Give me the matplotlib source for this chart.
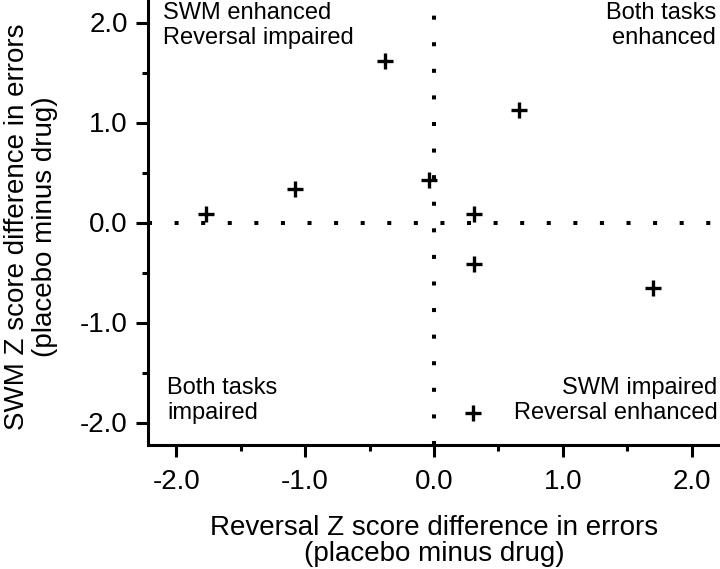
import numpy as np
import matplotlib
matplotlib.use("Agg")
import matplotlib.pyplot as plt
from matplotlib.ticker import MultipleLocator, FormatStrFormatter

plt.rcParams['font.family'] = ['Liberation Sans', 'DejaVu Sans']
plt.rcParams['axes.unicode_minus'] = False

# reversal vs SWM z score differences (placebo minus drug)
reversal_z = [-1.77, -1.08, -0.38, -0.04, 0.31, 0.31, 0.66, 1.70, 0.30]
swm_z = [0.09, 0.34, 1.62, 0.43, 0.09, -0.41, 1.12, -0.65, -1.90]

quadrant_labels = ["SWM enhanced\nReversal impaired", "Both tasks\nenhanced",
                   "Both tasks\nimpaired", "SWM impaired\nReversal enhanced"]

fig = plt.figure(figsize=(7.2, 5.69), dpi=100)
ax = fig.add_axes([148 / 720, 124 / 569, 572 / 720, 445 / 569])

# dotted zero lines
dots = (0, (1, 5.6))
ax.axhline(0, color='black', lw=2.9, linestyle=dots, dash_capstyle='butt', zorder=1)
ax.axvline(0, color='black', lw=2.9, linestyle=dots, dash_capstyle='butt', zorder=1)

ax.plot(reversal_z, swm_z, linestyle='none', marker='+', color='black',
        markersize=11, markeredgewidth=2.4, zorder=3)

ax.set_xlim(-2.22, 2.22)
ax.set_ylim(-2.225, 2.225)

ax.xaxis.set_major_locator(MultipleLocator(1.0))
ax.xaxis.set_minor_locator(MultipleLocator(0.5))
ax.yaxis.set_major_locator(MultipleLocator(1.0))
ax.yaxis.set_minor_locator(MultipleLocator(0.5))
ax.xaxis.set_major_formatter(FormatStrFormatter('%.1f'))
ax.yaxis.set_major_formatter(FormatStrFormatter('%.1f'))

ax.tick_params(which='major', direction='out', length=8.5, width=2.2, labelsize=20, pad=6)
ax.tick_params(axis='x', which='major', pad=9)
ax.tick_params(which='minor', direction='out', length=4, width=2.2)

for side in ['top', 'right']:
    ax.spines[side].set_visible(False)
for side in ['left', 'bottom']:
    ax.spines[side].set_linewidth(2.2)

ax.set_xlabel("Reversal Z score difference in errors\n(placebo minus drug)",
              fontsize=20, linespacing=1.0)
ax.set_ylabel("SWM Z score difference in errors\n(placebo minus drug)",
              fontsize=20, linespacing=1.1)
ax.xaxis.set_label_coords(0.5, -0.158)
ax.yaxis.set_label_coords(-0.157, 0.49)

ax.text(-2.10, 1.97, quadrant_labels[0], ha='left', va='center', fontsize=17)
ax.text(2.19, 1.97, quadrant_labels[1], ha='right', va='center', fontsize=17, multialignment='right')
ax.text(-2.07, -1.78, quadrant_labels[2], ha='left', va='center', fontsize=17)
ax.text(2.20, -1.78, quadrant_labels[3], ha='right', va='center', fontsize=17, multialignment='right')

fig.savefig("out.png", dpi=100)
